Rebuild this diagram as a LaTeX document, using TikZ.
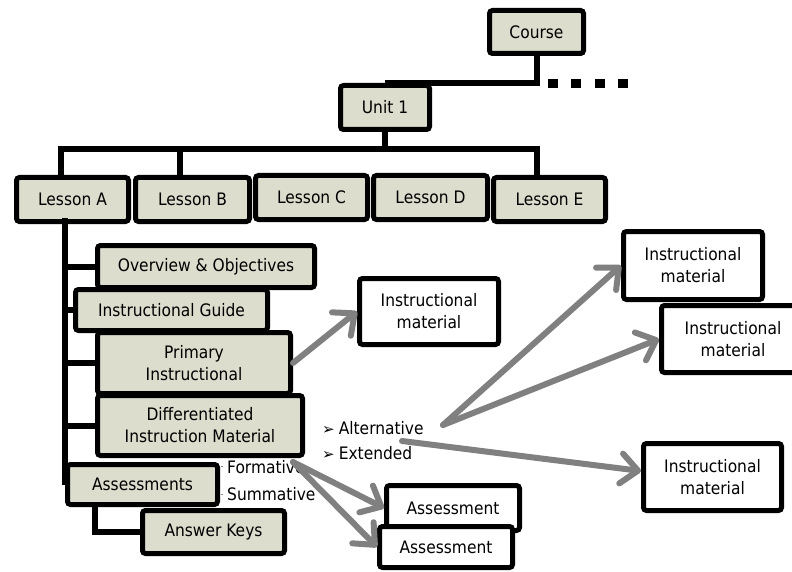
\documentclass[tikz,border=0pt]{standalone}
\usepackage{fontspec}
\setmainfont{DejaVu Sans Condensed}
\newfontfamily\dingfont{DejaVu Sans}
\usetikzlibrary{arrows.meta,calc}
\definecolor{boxfill}{RGB}{220,221,204}
\definecolor{arrowgray}{RGB}{128,128,128}
\newcommand{\bul}{{\dingfont\fontsize{15}{15}\selectfont ➢}}
\begin{document}
\begin{tikzpicture}[x=1pt,y=-1pt,
  every node/.style={font=\fontsize{17.2}{22}\selectfont},
  gbox/.style={draw=black, line width=5pt, rounded corners=3pt, fill=boxfill, inner sep=0pt, align=center},
  wbox/.style={gbox, fill=white},
  conn/.style={draw=black, line width=6pt},
  garrow/.style={draw=arrowgray, line width=6pt, line cap=round, -{Straight Barb[length=17pt,width=30pt,round]}},
  lbl/.style={anchor=west, inner sep=0pt}
  ]
\useasboundingbox (0,0) rectangle (792,572);

% main hierarchy
\node[gbox, minimum width=94pt, minimum height=43pt] (course) at (536.5,32) {Course};
\node[gbox, minimum width=89pt, minimum height=44pt] (unit) at (385,107.5) {Unit 1};
\node[gbox, minimum width=112pt, minimum height=44pt] (lA) at (72.5,199.5) {Lesson A};
\node[gbox, minimum width=114pt, minimum height=44pt] (lB) at (192.5,199.5) {Lesson B};
\node[gbox, minimum width=112pt, minimum height=44pt] (lC) at (311.5,197.5) {Lesson C};
\node[gbox, minimum width=114pt, minimum height=44pt] (lD) at (430.5,197.5) {Lesson D};
\node[gbox, minimum width=112pt, minimum height=44pt] (lE) at (549.5,199.5) {Lesson E};

% lesson A components
\node[gbox, minimum width=217pt, minimum height=42pt] (ov) at (206,266.5) {Overview \& Objectives};
\node[gbox, minimum width=192pt, minimum height=41pt] (guide) at (171.5,310) {Instructional Guide};
\node[gbox, minimum width=193pt, minimum height=61pt] (prim) at (194,363) {Primary\\Instructional};
\node[gbox, minimum width=205pt, minimum height=60pt] (diff) at (200,425.5) {Differentiated\\Instruction Material};
\node[gbox, minimum width=150pt, minimum height=40pt] (assess) at (142.5,484.5) {Assessments};
\node[gbox, minimum width=142pt, minimum height=43pt] (keys) at (213.5,532) {Answer Keys};

% materials
\node[wbox, minimum width=139pt, minimum height=66pt] (im1) at (429,311.5) {Instructional\\material};
\node[wbox, minimum width=139pt, minimum height=68pt] (im2) at (693,265.5) {Instructional\\material};
\node[wbox, minimum width=143pt, minimum height=67pt] (im3) at (733,339) {Instructional\\material};
\node[wbox, minimum width=138pt, minimum height=67pt] (im4) at (712.5,477) {Instructional\\material};
\node[wbox, minimum width=133pt, minimum height=45pt] (as1) at (453,508) {Assessment};
\node[wbox, minimum width=133pt, minimum height=41pt] (as2) at (446,547) {Assessment};

% labels
\node[lbl] (form) at (227,467) {Formative};
\node[lbl] (summ) at (227,494) {Summative};
\node[lbl] (alt) at (322,428) {\bul\hspace{4pt}Alternative};
\node[lbl] (ext) at (322,453) {\bul\hspace{4pt}Extended};
\draw[black!45, line width=0.8pt] (220.5,466) -- (223,466) (220.5,494) -- (223,494);

% connectors
\draw[conn] (course.south) |- (unit.north);
\coordinate (dotA) at (548,84);
\coordinate (dotB) at (628,84);
\draw[line width=9pt, dash pattern=on 10pt off 13.3pt] (dotA) -- (dotB);

\coordinate (hub) at (385,149);
\coordinate (adrop) at ($(lA.north)+(-11.5,0)$);
\coordinate (bdrop) at ($(lB.north)+(-12.5,0)$);
\coordinate (edrop) at ($(lE.north)+(-12.5,0)$);
\draw[conn] (unit.south) -- (hub);
\draw[conn] (adrop) |- (hub) -| (edrop);
\draw[conn] (bdrop) -- (bdrop |- hub);

\coordinate (sptop) at ($(lA.south)+(-7.5,-6)$);
\draw[conn] (sptop) -- (sptop |- assess.west) -- (assess.west);
\draw[conn] (sptop |- ov.west) -- (ov.west);
\draw[conn] (sptop |- guide.west) -- (guide.west);
\draw[conn] (sptop |- prim.west) -- (prim.west);
\draw[conn] (sptop |- diff.west) -- (diff.west);
\coordinate (kdrop) at ($(assess.south)+(-47.5,0)$);
\draw[conn] (kdrop) |- (keys.west);

% gray arrows
\draw[garrow] (prim.east) -- (im1.west);
\coordinate (altsrc) at (443,425);
\coordinate (extsrc) at (402,441);
\coordinate (fsrc) at (293,462);
\draw[garrow] (altsrc) -- (im2.west);
\draw[garrow] (altsrc) -- (im3.west);
\draw[garrow] (extsrc) -- ($(im4.west)+(0,-6)$);
\draw[garrow] (fsrc) -- (as1.west);
\draw[garrow] (fsrc) -- (as2.west);
\end{tikzpicture}
\end{document}
